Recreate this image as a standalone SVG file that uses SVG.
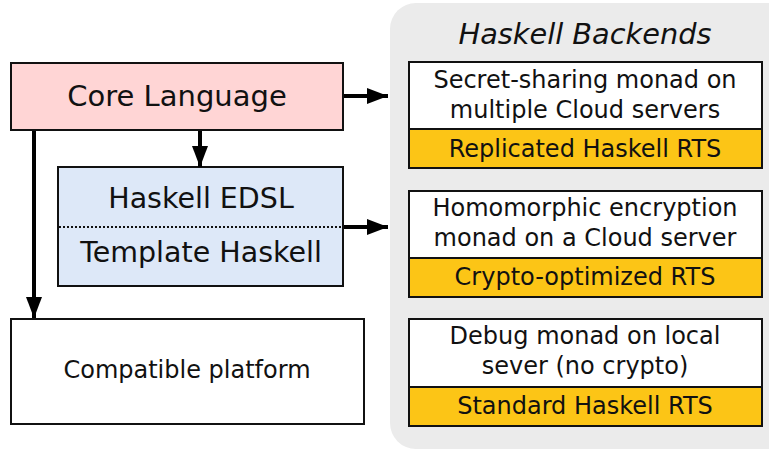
<svg xmlns="http://www.w3.org/2000/svg" width="769" height="451" viewBox="0 0 769 451">
  <style>
    text { font-family: "DejaVu Sans", "Liberation Sans", sans-serif; fill: #111; text-anchor: middle; }
    .box { stroke: #111; stroke-width: 2; }
    .white { fill: #ffffff; }
    .rts { fill: #fcc516; }
    .edge { stroke: #000; stroke-width: 4; fill: none; }
    .t24 { font-size: 24px; }
  </style>
  <defs>
    <marker id="arrow" markerUnits="userSpaceOnUse" markerWidth="22" markerHeight="18" refX="21" refY="8" orient="auto">
      <path d="M0,0 L21,8 L0,16 Z" fill="#000"/>
    </marker>
  </defs>

  <!-- backend panel -->
  <g id="backends">
    <rect x="390" y="3" width="410" height="446" rx="26" fill="#ebebeb"/>
    <text x="585" y="44" font-size="28.8" font-style="italic">Haskell Backends</text>
  </g>

  <g id="core">
    <rect class="box" x="11" y="63" width="332" height="67" fill="#ffd5d5"/>
    <text x="177" y="106" font-size="29">Core Language</text>
  </g>

  <g id="edsl">
    <rect class="box" x="58" y="167" width="285" height="119" fill="#dde8f8"/>
    <line x1="59" y1="227" x2="342" y2="227" stroke="#111" stroke-width="2" stroke-dasharray="2,2"/>
    <text x="201" y="208" font-size="28.5">Haskell EDSL</text>
    <text x="201" y="262" font-size="28.5">Template Haskell</text>
  </g>

  <g id="platform">
    <rect class="box white" x="11" y="319" width="353" height="105"/>
    <text x="187" y="378" class="t24">Compatible platform</text>
  </g>

  <g id="secret-sharing">
    <rect class="box white" x="409" y="62" width="353" height="67"/>
    <rect class="box rts" x="409" y="129" width="353" height="39"/>
    <text x="585" y="88" class="t24">Secret-sharing monad on</text>
    <text x="585" y="118" class="t24">multiple Cloud servers</text>
    <text x="585" y="157" class="t24">Replicated Haskell RTS</text>
  </g>

  <g id="homomorphic">
    <rect class="box white" x="409" y="191" width="353" height="67"/>
    <rect class="box rts" x="409" y="258" width="353" height="39"/>
    <text x="585" y="216" class="t24">Homomorphic encryption</text>
    <text x="585" y="246" class="t24">monad on a Cloud server</text>
    <text x="585" y="285" class="t24">Crypto-optimized RTS</text>
  </g>

  <g id="debug">
    <rect class="box white" x="409" y="319" width="353" height="68"/>
    <rect class="box rts" x="409" y="387" width="353" height="39"/>
    <text x="585" y="344" class="t24">Debug monad on local</text>
    <text x="585" y="374" class="t24">sever (no crypto)</text>
    <text x="585" y="414" class="t24">Standard Haskell RTS</text>
  </g>

  <g id="connectors">
    <line class="edge" x1="344" y1="96" x2="388" y2="96" marker-end="url(#arrow)"/>
    <line class="edge" x1="344" y1="227" x2="388" y2="227" marker-end="url(#arrow)"/>
    <line class="edge" x1="200" y1="131" x2="200" y2="167" marker-end="url(#arrow)"/>
    <line class="edge" x1="34" y1="131" x2="34" y2="318" marker-end="url(#arrow)"/>
  </g>
</svg>
